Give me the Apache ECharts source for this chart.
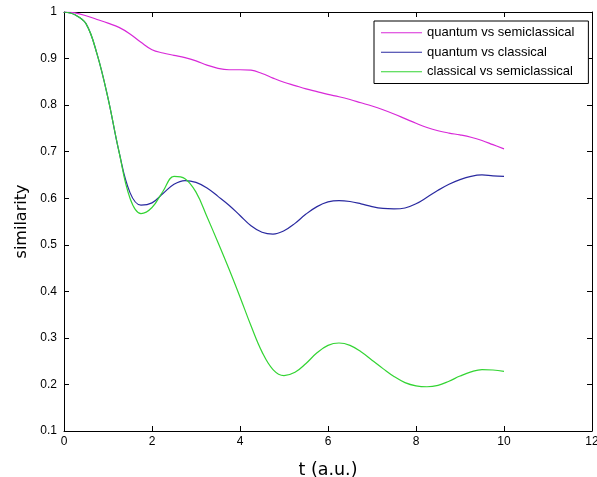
<!DOCTYPE html>
<html>
<head>
<meta charset="utf-8">
<script src="https://cdn.jsdelivr.net/npm/echarts@6/dist/echarts.min.js"></script>
<style>
  html, body { margin: 0; padding: 0; background: #ffffff; }
  #chart { width: 597px; height: 477px; }
</style>
</head>
<body>
<div id="chart"></div>
<script>
// time samples (a.u.)
const t = [0, 0.25, 0.5, 0.75, 1.0, 1.25, 1.5, 1.75, 2.0, 2.25, 2.5, 2.75, 3.0, 3.25, 3.5, 3.75,
           4.0, 4.25, 4.5, 4.75, 5.0, 5.25, 5.5, 5.75, 6.0, 6.25, 6.5, 6.75, 7.0, 7.25, 7.5, 7.75,
           8.0, 8.25, 8.5, 8.75, 9.0, 9.25, 9.5, 9.75, 10.0];

const seriesNames = ['quantum vs semiclassical', 'quantum vs classical', 'classical vs semiclassical'];

const quantumVsSemiclassical = [1.0, 0.998, 0.992, 0.984, 0.976, 0.967, 0.953, 0.935, 0.919, 0.912,
  0.907, 0.902, 0.895, 0.886, 0.879, 0.876, 0.876, 0.875, 0.868, 0.858, 0.849, 0.842, 0.835, 0.829,
  0.823, 0.818, 0.812, 0.805, 0.798, 0.790, 0.781, 0.771, 0.761, 0.752, 0.745, 0.740, 0.736, 0.731,
  0.724, 0.715, 0.706];

const quantumVsClassical = [1.0, 0.994, 0.975, 0.910, 0.815, 0.700, 0.612, 0.585, 0.590, 0.610,
  0.630, 0.638, 0.634, 0.622, 0.604, 0.585, 0.563, 0.541, 0.527, 0.523, 0.530, 0.546, 0.566, 0.582,
  0.592, 0.595, 0.593, 0.588, 0.582, 0.578, 0.577, 0.579, 0.588, 0.602, 0.617, 0.630, 0.640, 0.647,
  0.650, 0.648, 0.647];

const classicalVsSemiclassical = [1.0, 0.994, 0.975, 0.910, 0.815, 0.700, 0.600, 0.567, 0.580, 0.615,
  0.647, 0.642, 0.613, 0.560, 0.505, 0.448, 0.388, 0.326, 0.270, 0.232, 0.219, 0.226, 0.245, 0.268,
  0.284, 0.289, 0.284, 0.270, 0.252, 0.234, 0.217, 0.204, 0.197, 0.195, 0.198, 0.207, 0.218, 0.227,
  0.232, 0.231, 0.228];

const colors = ['#d829d8', '#2a2aa0', '#33d433'];

const xTicks = { min: 0, max: 12, interval: 2 };
const yTicks = { min: 0.1, max: 1, interval: 0.1 };

const pairs = (ys) => t.map((x, i) => [x, ys[i]]);
const allValues = [quantumVsSemiclassical, quantumVsClassical, classicalVsSemiclassical];

const labelFont = { fontFamily: 'Liberation Sans, Arial, sans-serif', fontSize: 12, color: '#000' };
const nameFont = { fontFamily: 'DejaVu Sans, sans-serif', fontSize: 16, color: '#000' };
const lineStyle = { color: '#000', width: 1 };

const chart = echarts.init(document.getElementById('chart'), null, { renderer: 'canvas' });

chart.setOption({
  backgroundColor: '#ffffff',
  animation: false,
  grid: { left: 64, right: 5, top: 12, bottom: 46, containLabel: false, outerBoundsMode: 'none' },
  legend: {
    orient: 'vertical',
    left: 374,
    top: 21,
    data: seriesNames.map((name) => ({ name, icon: 'rect' })),
    itemWidth: 41,
    itemHeight: 1.2,
    itemGap: 6,
    padding: [5, 14, 5, 7],
    borderColor: '#000',
    borderWidth: 1,
    backgroundColor: '#fff',
    textStyle: { fontFamily: 'Liberation Sans, Arial, sans-serif', fontSize: 13, color: '#000', lineHeight: 13.5 }
  },
  xAxis: [
    {
      type: 'value', position: 'bottom', ...xTicks,
      name: 't (a.u.)', nameLocation: 'middle', nameGap: 30,
      nameTextStyle: { ...nameFont, fontSize: 17.5 },
      axisLine: { show: true, onZero: false, lineStyle },
      axisTick: { show: true, inside: true, length: 5, lineStyle },
      axisLabel: { ...labelFont, margin: 5 },
      splitLine: { show: false }
    },
    {
      type: 'value', position: 'top', ...xTicks,
      axisLine: { show: true, onZero: false, lineStyle },
      axisTick: { show: true, inside: true, length: 5, lineStyle },
      axisLabel: { show: false },
      splitLine: { show: false }
    }
  ],
  yAxis: [
    {
      type: 'value', position: 'left', ...yTicks,
      name: 'similarity', nameLocation: 'middle', nameGap: 34, nameTextStyle: nameFont,
      axisLine: { show: true, onZero: false, lineStyle },
      axisTick: { show: true, inside: true, length: 5, lineStyle },
      axisLabel: {
        ...labelFont, margin: 7,
        formatter: (v) => (Math.abs(v - 1) < 1e-9 ? '1' : v.toFixed(1))
      },
      splitLine: { show: false }
    },
    {
      type: 'value', position: 'right', ...yTicks,
      axisLine: { show: true, onZero: false, lineStyle },
      axisTick: { show: true, inside: true, length: 5, lineStyle },
      axisLabel: { show: false },
      splitLine: { show: false }
    }
  ],
  series: seriesNames.map((name, i) => ({
    name,
    type: 'line',
    xAxisIndex: 0,
    yAxisIndex: 0,
    data: pairs(allValues[i]),
    smooth: 0.4,
    symbol: 'none',
    showSymbol: false,
    color: colors[i],
    lineStyle: { color: colors[i], width: 1.2 }
  }))
});
</script>
</body>
</html>
